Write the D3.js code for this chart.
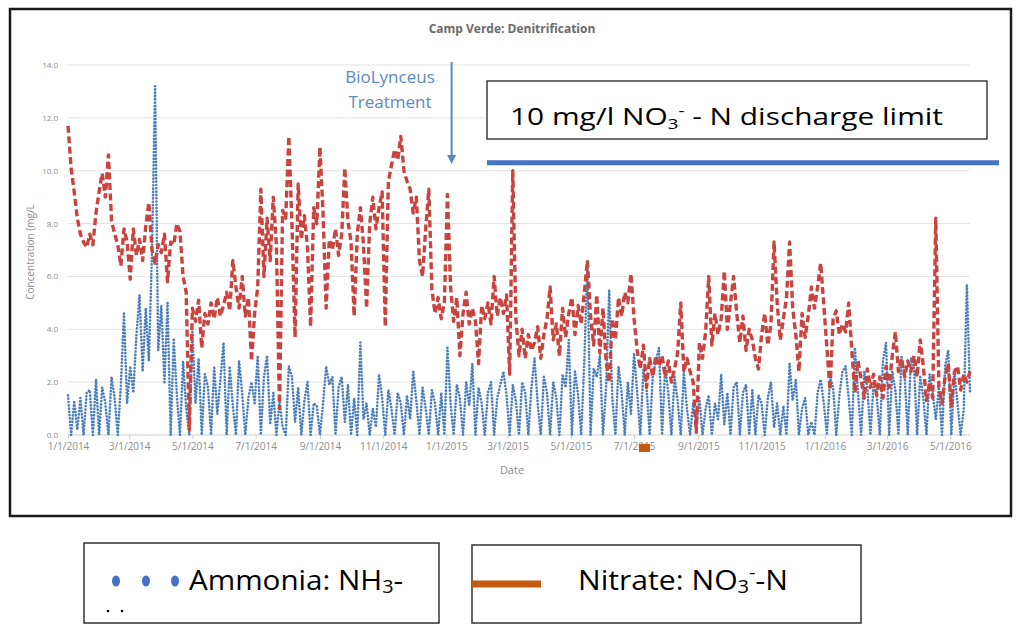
<!DOCTYPE html>
<html>
<head>
<meta charset="utf-8">
<script src="https://cdn.jsdelivr.net/npm/d3@7"></script>
<style>
  html, body { margin: 0; padding: 0; background: #fff; }
  svg { display: block; }
</style>
</head>
<body>
<svg id="chart" width="1024" height="633"></svg>
<script>
// ---------------- DATA ----------------
const chartTitle = "Camp Verde: Denitrification";
const sampleStart = "2014-01-01";
const sampleStepDays = 3;

// Nitrate (NO3- -N), mg/L, one value every 3 days from 1/1/2014
const nitrate = [
  11.7, 10.1, 9.2, 8.2, 7.6, 7.3, 7.1, 7.6, 7.2, 8.4,
  9.2, 9.9, 9.0, 10.6, 8.1, 7.6, 7.2, 6.4, 7.8, 7.3,
  5.9, 7.8, 6.8, 7.4, 6.6, 7.9, 8.8, 7.0, 6.5, 7.2,
  6.9, 7.6, 5.8, 7.3, 7.2, 8.0, 7.7, 6.0, 5.4, 0.2,
  4.8, 4.3, 5.1, 3.3, 4.6, 4.2, 5.0, 4.4, 5.2, 4.5,
  4.9, 5.4, 4.7, 6.6, 5.6, 4.8, 6.0, 4.5, 5.2, 2.8,
  4.6, 5.6, 9.3, 6.0, 8.2, 6.6, 9.0, 7.2, 1.0, 8.5,
  8.2, 11.3, 8.0, 3.7, 9.5, 7.4, 8.3, 7.1, 4.1, 8.6,
  8.0, 10.9, 8.4, 4.8, 7.4, 7.0, 7.8, 6.8, 7.6, 10.1,
  8.1, 7.3, 4.5, 7.6, 8.6, 7.2, 4.8, 8.0, 9.0, 7.8,
  8.6, 9.2, 4.1, 9.6, 10.2, 10.8, 10.4, 11.3, 10.0, 9.6,
  9.3, 8.4, 9.0, 6.6, 6.0, 7.8, 9.3, 5.5, 4.6, 5.2,
  4.4, 5.0, 9.1, 5.6, 4.3, 5.2, 3.0, 4.6, 5.4, 4.2,
  4.8, 4.3, 2.7, 4.9, 4.4, 5.0, 4.2, 6.0, 4.5, 5.2,
  4.6, 5.3, 2.3, 10.0, 4.4, 3.0, 4.0, 2.9, 3.8, 3.2,
  3.5, 4.1, 2.9, 3.8, 4.4, 5.6, 3.6, 4.2, 3.0, 4.8,
  3.7, 4.6, 5.2, 3.8, 4.9, 4.2, 5.4, 6.6, 4.5, 3.4,
  5.3, 3.1, 4.8, 2.8, 2.0, 4.4, 3.6, 5.2, 4.5, 5.4,
  5.0, 6.1, 4.4, 3.2, 2.5, 3.4, 1.8, 2.9, 2.2, 3.0,
  2.6, 3.0, 2.2, 2.8, 2.0, 2.5, 3.1, 5.0, 2.4, 2.9,
  2.4, 2.0, 0.1, 3.5, 2.9, 3.9, 6.0, 3.4, 4.6, 3.8,
  4.4, 6.2, 4.0, 5.0, 6.0, 4.6, 3.5, 4.5, 3.2, 4.0,
  3.6, 2.9, 2.5, 3.8, 4.6, 3.4, 4.2, 7.3, 5.0, 3.6,
  4.4, 5.2, 7.3, 4.8, 3.8, 2.4, 4.6, 3.7, 4.5, 5.6,
  4.8, 5.6, 6.5, 4.9, 3.3, 1.7, 4.4, 4.7, 3.8, 4.2,
  3.9, 5.0, 3.2, 1.6, 2.8, 2.1, 1.4, 2.5, 1.8, 2.3,
  1.5, 2.2, 1.4, 2.6, 1.8, 3.0, 3.9, 2.4, 2.9, 2.2,
  2.8, 2.4, 3.0, 2.2, 3.6, 2.6, 1.3, 2.0, 1.4, 8.2,
  1.8, 1.2, 2.2, 2.7, 1.1, 2.4, 2.6, 1.7, 2.3, 2.0, 2.4
];

// Ammonia (NH3-N), mg/L, same sampling
const ammonia = [
  1.5, 0, 1.3, 0.2, 1.4, 0, 1.6, 1.7, 0, 2.1,
  0, 1.8, 1.2, 0, 2.2, 1.4, 0, 1.9, 4.6, 1.2,
  2.6, 1.6, 3.8, 5.3, 2.4, 4.8, 2.8, 6.9, 13.2, 3.2,
  4.9, 2.0, 5.0, 0, 3.6, 1.5, 0, 2.8, 1.0, 0,
  3.9, 1.2, 2.9, 0, 2.3, 1.8, 0, 2.6, 0.8, 2.1,
  3.5, 0, 2.6, 1.1, 0, 2.8, 1.6, 0, 1.4, 2.0,
  1.2, 3.0, 0, 2.2, 3.0, 0.4, 1.6, 0, 1.3, 0.3,
  0, 2.6, 2.2, 0.5, 1.8, 0, 1.3, 2.0, 0, 1.2,
  1.1, 0, 1.2, 2.6, 1.9, 2.2, 0, 1.8, 2.2, 0.5,
  1.9, 0, 1.4, 0, 3.5, 0.6, 1.2, 0, 1.0, 0.3,
  2.3, 1.4, 0, 1.7, 1.0, 0, 1.6, 1.2, 0, 1.5,
  0.6, 2.4, 1.3, 0, 1.8, 1.0, 0, 1.7, 1.2, 0,
  1.6, 0, 3.3, 1.2, 0, 1.9, 1.4, 0, 2.0, 1.1,
  2.7, 0, 1.8, 1.2, 0, 1.6, 2.0, 0, 1.4, 1.9,
  2.4, 1.5, 0, 1.9, 1.3, 0, 2.0, 1.6, 0, 1.8,
  2.9, 1.2, 0, 2.2, 1.6, 0, 2.0, 1.4, 0, 2.3,
  1.8, 3.6, 0, 2.4, 1.5, 0, 2.8, 6.6, 0, 2.5,
  2.2, 3.0, 0, 1.8, 5.5, 1.4, 0, 2.6, 1.6, 0,
  2.0, 0.8, 3.1, 1.6, 0, 2.5, 1.8, 0, 2.2, 2.8,
  3.3, 0, 2.6, 1.6, 0, 2.2, 1.3, 0, 2.4, 1.0,
  0, 1.2, 0.3, 1.4, 0, 1.0, 1.5, 0, 1.2, 0.6,
  2.3, 0.4, 1.6, 0, 1.8, 2.0, 0, 1.6, 1.9, 0,
  1.7, 0, 1.5, 1.2, 0, 1.4, 2.0, 0.3, 1.2, 0,
  1.1, 0, 2.7, 1.3, 2.1, 0, 1.0, 1.4, 0, 0.5,
  0, 1.6, 2.1, 1.2, 0, 2.2, 1.8, 0, 1.5, 2.4,
  2.6, 1.4, 0, 3.3, 1.6, 0, 2.4, 1.8, 0, 2.0,
  1.5, 0, 2.8, 3.5, 0, 2.4, 1.7, 0, 3.0, 2.2,
  0, 2.9, 2.6, 0, 2.2, 1.4, 0, 2.3, 1.6, 0.6,
  1.8, 0, 2.6, 3.2, 0, 2.4, 1.2, 0, 1.0, 5.7, 1.6
];

const xTickLabels = ["1/1/2014","3/1/2014","5/1/2014","7/1/2014","9/1/2014","11/1/2014",
  "1/1/2015","3/1/2015","5/1/2015","7/1/2015","9/1/2015","11/1/2015",
  "1/1/2016","3/1/2016","5/1/2016"];
const yTicks = [0, 2, 4, 6, 8, 10, 12, 14];
const xDomain = ["1/1/2014", "5/20/2016"];
const dischargeLimit = 10;
const treatmentDate = "1/6/2015";

// ---------------- DRAW ----------------
const svg = d3.select("#chart");
const parseMDY = d3.timeParse("%m/%d/%Y");
const start = d3.timeParse("%Y-%m-%d")(sampleStart);
const dateAt = i => d3.timeDay.offset(start, i * sampleStepDays);

const x = d3.scaleTime().domain(xDomain.map(parseMDY)).range([68, 970]);
const y = d3.scaleLinear().domain([0, 14]).range([435, 65]);

const grey = "#8c8c8c";
const font = "'Open Sans', 'Liberation Sans', sans-serif";

// outer frame
svg.append("rect").attr("x", 10).attr("y", 9).attr("width", 1001).attr("height", 507)
  .attr("fill", "none").attr("stroke", "#1a1a1a").attr("stroke-width", 2.5);

// title
svg.append("text").attr("x", 512).attr("y", 33).attr("text-anchor", "middle")
  .attr("font-family", font).attr("font-weight", "bold").attr("font-size", 12)
  .attr("fill", "#6b6b6b").text(chartTitle);

// gridlines
svg.append("g").selectAll("line").data(yTicks).join("line")
  .attr("x1", 68).attr("x2", 970)
  .attr("y1", d => y(d)).attr("y2", d => y(d))
  .attr("stroke", d => d === 0 ? "#cfcfcf" : "#e3e3e3").attr("stroke-width", 1);

// y axis labels
const yAxis = d3.axisLeft(y).tickValues(yTicks).tickFormat(d3.format(".1f")).tickSize(0).tickPadding(10);
const gy = svg.append("g").attr("transform", "translate(68,0)").call(yAxis);
gy.select(".domain").remove();
gy.selectAll("text").attr("font-family", font).attr("font-size", 8).attr("fill", grey);

// x axis
const xAxis = d3.axisBottom(x).tickValues(xTickLabels.map(parseMDY))
  .tickFormat(d3.timeFormat("%-m/%-d/%Y")).tickSize(4).tickPadding(4);
const gx = svg.append("g").attr("transform", "translate(0,435)").call(xAxis);
gx.select(".domain").remove();
gx.selectAll("line").attr("stroke", "#cfcfcf");
gx.selectAll("text").attr("font-family", font).attr("font-size", 10).attr("fill", grey);

// axis titles
svg.append("text").attr("x", 512).attr("y", 474).attr("text-anchor", "middle")
  .attr("font-family", font).attr("font-size", 11).attr("fill", grey).text("Date");
svg.append("text").attr("transform", "translate(34,252) rotate(-90)").attr("text-anchor", "middle")
  .attr("font-family", font).attr("font-size", 10).attr("fill", grey).text("Concentration (mg/L");

// series
const ammoniaLine = d3.line().x((d, i) => x(dateAt(i))).y(d => y(d));
svg.append("path").datum(ammonia).attr("d", ammoniaLine)
  .attr("fill", "none").attr("stroke", "#4a7ebb").attr("stroke-width", 2.6)
  .attr("stroke-linecap", "round").attr("stroke-linejoin", "round")
  .attr("stroke-dasharray", "0.1 3.2");

const nitrateLine = d3.line().x((d, i) => x(dateAt(i))).y(d => y(d));
svg.append("path").datum(nitrate).attr("d", nitrateLine)
  .attr("fill", "none").attr("stroke", "#c9443f").attr("stroke-width", 3.4)
  .attr("stroke-linejoin", "round")
  .attr("stroke-dasharray", "7 3.5");

// treatment annotation
const tx = x(parseMDY(treatmentDate));
const blueText = "#5a8ac6";
svg.append("line").attr("x1", tx).attr("x2", tx).attr("y1", 62).attr("y2", 156)
  .attr("stroke", blueText).attr("stroke-width", 2);
svg.append("path").attr("d", `M${tx - 4.5},155 L${tx + 4.5},155 L${tx},164 Z`).attr("fill", blueText);
svg.append("text").attr("x", 390).attr("y", 83).attr("text-anchor", "middle")
  .attr("font-family", font).attr("font-size", 17).attr("fill", blueText).text("BioLynceus");
svg.append("text").attr("x", 390).attr("y", 108).attr("text-anchor", "middle")
  .attr("font-family", font).attr("font-size", 17).attr("fill", blueText).text("Treatment");

// discharge limit box & line
svg.append("rect").attr("x", 487).attr("y", 81).attr("width", 500).attr("height", 58)
  .attr("fill", "#fff").attr("stroke", "#222").attr("stroke-width", 1.3);
const lim = svg.append("text").attr("x", 510).attr("y", 125)
  .attr("font-family", font).attr("font-size", 24).attr("fill", "#000");
lim.append("tspan").text("10 mg/l NO");
lim.append("tspan").attr("font-size", 15).attr("dy", 4).text("3");
lim.append("tspan").attr("font-size", 15).attr("dy", -13).text("-");
lim.append("tspan").attr("dy", 9).text(" - N discharge limit");
lim.attr("textLength", 433).attr("lengthAdjust", "spacingAndGlyphs");

svg.append("line").attr("x1", 487).attr("x2", 999)
  .attr("y1", y(dischargeLimit) - 8).attr("y2", y(dischargeLimit) - 8)
  .attr("stroke", "#4472c4").attr("stroke-width", 5);

// small orange marker
svg.append("rect").attr("x", 639).attr("y", 444).attr("width", 11).attr("height", 8).attr("fill", "#c55a11");

// legend 1
svg.append("rect").attr("x", 84).attr("y", 543).attr("width", 355).attr("height", 80)
  .attr("fill", "#fff").attr("stroke", "#333").attr("stroke-width", 1.5);
[116, 146, 175].forEach(cx => {
  svg.append("ellipse").attr("cx", cx).attr("cy", 581).attr("rx", 4).attr("ry", 5.5).attr("fill", "#4472c4");
});
const l1 = svg.append("text").attr("x", 189).attr("y", 590)
  .attr("font-family", font).attr("font-size", 27).attr("fill", "#000");
l1.append("tspan").text("Ammonia: NH");
l1.append("tspan").attr("font-size", 18).attr("dy", 3).text("3");
l1.append("tspan").attr("dy", -3).text("-");
l1.attr("textLength", 214).attr("lengthAdjust", "spacingAndGlyphs");
[108, 122].forEach(cx => {
  svg.append("circle").attr("cx", cx).attr("cy", 611).attr("r", 1.3).attr("fill", "#000");
});

// legend 2
svg.append("rect").attr("x", 472).attr("y", 545).attr("width", 389).attr("height", 78)
  .attr("fill", "#fff").attr("stroke", "#333").attr("stroke-width", 1.5);
svg.append("line").attr("x1", 472).attr("x2", 541).attr("y1", 584).attr("y2", 584)
  .attr("stroke", "#c55a11").attr("stroke-width", 7);
const l2 = svg.append("text").attr("x", 578).attr("y", 590)
  .attr("font-family", font).attr("font-size", 27).attr("fill", "#000");
l2.append("tspan").text("Nitrate: NO");
l2.append("tspan").attr("font-size", 18).attr("dy", 3).text("3");
l2.append("tspan").attr("font-size", 18).attr("dy", -14).text("-");
l2.append("tspan").attr("dy", 11).text("-N");
l2.attr("textLength", 210).attr("lengthAdjust", "spacingAndGlyphs");
</script>
</body>
</html>
